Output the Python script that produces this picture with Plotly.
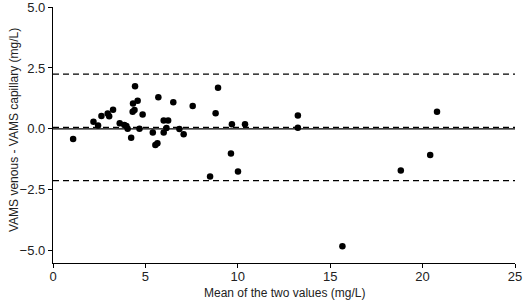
import plotly.graph_objects as go

# Bland-Altman data: mean of two values (mg/L) and difference (mg/L)
mean_vals = [1.09, 2.19, 2.44, 2.62, 2.96, 3.04, 3.25, 3.61, 3.86, 3.97, 4.04, 4.23,
             4.44, 4.33, 4.58, 4.31, 4.41, 4.68, 4.85, 5.40, 5.70, 5.54, 5.65, 5.99,
             6.23, 6.14, 5.99, 6.51, 6.84, 7.07, 7.56, 8.80, 8.93, 9.68, 10.39, 13.25,
             13.25, 20.78, 9.63, 8.50, 10.01, 20.41, 18.82, 15.66]
diff_vals = [-0.41, 0.29, 0.14, 0.53, 0.63, 0.52, 0.79, 0.23, 0.16, 0.12, 0.01, -0.36,
             1.75, 1.04, 1.15, 0.70, 0.78, 0.01, 0.59, -0.15, 1.30, -0.66, -0.59, 0.34,
             0.34, 0.04, -0.15, 1.09, 0.00, -0.22, 0.94, 0.64, 1.69, 0.19, 0.19, 0.55,
             0.05, 0.70, -1.01, -1.95, -1.75, -1.07, -1.71, -4.81]

mean_diff = 0.065
upper_loa = 2.25
lower_loa = -2.12
zero_line = 0.0
x_span = [0, 25]

x_ticks = [0, 5, 10, 15, 20, 25]
y_ticks = [-5.0, -2.5, 0.0, 2.5, 5.0]

x_title = "Mean of the two values (mg/L)"
y_title = "VAMS venous - VAMS capillary (mg/L)"

font_family = "Liberation Sans, Arial, sans-serif"

fig = go.Figure()

fig.add_trace(go.Scatter(x=x_span, y=[zero_line, zero_line], mode="lines",
                         line=dict(color="black", width=1.4), hoverinfo="skip"))
for val in (mean_diff, upper_loa, lower_loa):
    fig.add_trace(go.Scatter(x=x_span, y=[val, val], mode="lines",
                             line=dict(color="black", width=1.3, dash="6px,4px"),
                             hoverinfo="skip"))

fig.add_trace(go.Scatter(x=mean_vals, y=diff_vals, mode="markers",
                         marker=dict(color="black", size=6.5), cliponaxis=False))

fig.update_layout(
    width=526, height=303,
    margin=dict(l=53, r=11, t=7, b=40, autoexpand=False),
    paper_bgcolor="white", plot_bgcolor="white",
    showlegend=False,
    font=dict(family=font_family, color="black", size=12),
    annotations=[
        dict(text=x_title, xref="paper", yref="paper", x=0.5, y=0,
             xanchor="center", yanchor="middle", yshift=-30, showarrow=False,
             font=dict(size=12, color="#222")),
        dict(text=y_title, xref="paper", yref="paper", x=0, y=0.5,
             xanchor="center", yanchor="middle", xshift=-39, yshift=5,
             textangle=-90, showarrow=False, font=dict(size=12, color="#222")),
    ],
)
fig.update_xaxes(
    range=[0, 25], tickvals=x_ticks, showgrid=False, zeroline=False,
    showline=True, linecolor="black", linewidth=1.3,
    ticks="outside", ticklen=4, tickcolor="black", tickwidth=1,
    tickfont=dict(size=13, color="#222"), automargin=False,
    ticklabeloverflow="allow", ticklabelstandoff=-3,
)
fig.update_yaxes(
    range=[-5.5, 5.0], tickvals=y_ticks, tickformat=".1f", showgrid=False,
    zeroline=False, showline=True, linecolor="black", linewidth=1.3,
    ticks="outside", ticklen=4, tickcolor="black", tickwidth=1,
    tickfont=dict(size=13, color="#222"), automargin=False,
    ticklabeloverflow="allow",
)

fig.write_html("out.html", config={"displayModeBar": False},
               post_script="document.body.style.margin='0';document.body.style.overflow='hidden';")
